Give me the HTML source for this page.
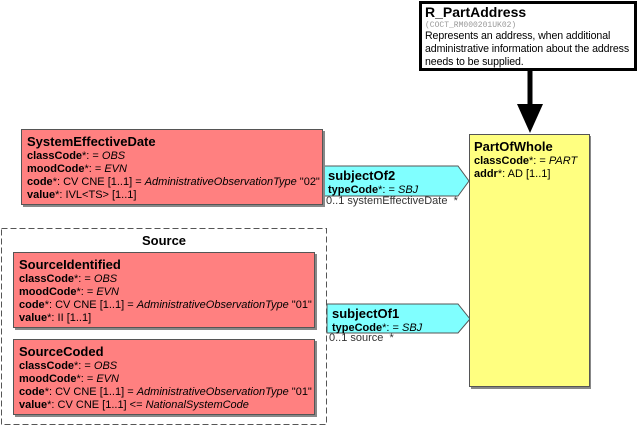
<!DOCTYPE html>
<html><head><style>
body{margin:0;width:643px;height:427px;background:#fff;position:relative;overflow:hidden;font-family:"Liberation Sans",Arial,sans-serif;}
.b{position:absolute;box-sizing:border-box;}
.red{background:#ff8080;border:1px solid #555;box-shadow:2px 2px 0 #888;padding:3px 5px;}
.t{font-weight:bold;font-size:13px;line-height:17px;}
.a{font-size:11px;line-height:13px;white-space:nowrap;}
.a b{font-weight:bold;}
.l{position:absolute;font-size:11px;color:#333;white-space:nowrap;}
</style></head><body>
<svg class="b" style="left:0;top:0" width="643" height="427">
<rect x="1.5" y="228.5" width="325" height="196" fill="#fff" stroke="#555" stroke-dasharray="6,3"/>
<line x1="530" y1="70" x2="530" y2="106" stroke="#000" stroke-width="5"/>
<polygon points="517,104 543,104 530,133" fill="#000"/>
<polygon points="323,166 458,166 469,181 458,196 323,196" fill="#80ffff" stroke="#555"/>
<polygon points="327,304 458,304 470,319 458,333 327,333" fill="#80ffff" stroke="#555"/>
<rect x="471" y="136" width="120" height="253" fill="#888"/>
<rect x="469.5" y="134.5" width="120" height="252" fill="#ffff80" stroke="#555"/>
<rect x="420.5" y="2.5" width="215" height="67" fill="#fff" stroke="#000" stroke-width="3"/>
</svg>
<div class="b" style="top:4px;left:425px;width:212px">
<div class="t" style="font-size:14px">R_PartAddress</div>
<div style="font-family:'Liberation Mono',monospace;font-size:8px;color:#999;line-height:9px">(COCT_RM000201UK02)</div>
<div class="a" style="line-height:13px;font-size:10.6px;letter-spacing:-0.1px">Represents an address, when additional<br>administrative information about the address<br>needs to be supplied.</div>
</div>
<div class="b" style="left:474px;top:138px">
<div class="t">PartOfWhole</div>
<div class="a"><b>classCode</b>*: = <i>PART</i></div>
<div class="a"><b>addr</b>*: AD [1..1]</div>
</div>
<div class="b red" style="left:21px;top:129px;width:302px;height:76px">
<div class="t">SystemEffectiveDate</div>
<div class="a"><b>classCode</b>*: = <i>OBS</i></div>
<div class="a"><b>moodCode</b>*: = <i>EVN</i></div>
<div class="a"><b>code</b>*: CV CNE [1..1] = <i>AdministrativeObservationType</i> "02"</div>
<div class="a"><b>value</b>*: IVL&lt;TS&gt; [1..1]</div>
</div>
<div class="b" style="left:328px;top:167px">
<div class="t">subjectOf2</div>
<div class="a"><b>typeCode</b>*: = <i>SBJ</i></div>
</div>
<div class="l" style="left:326px;top:195px">0..1 systemEffectiveDate &nbsp;*</div>
<div class="b t" style="left:1px;top:232px;width:326px;text-align:center">Source</div>
<div class="b red" style="left:13px;top:252px;width:302px;height:76px">
<div class="t">SourceIdentified</div>
<div class="a"><b>classCode</b>*: = <i>OBS</i></div>
<div class="a"><b>moodCode</b>*: = <i>EVN</i></div>
<div class="a"><b>code</b>*: CV CNE [1..1] = <i>AdministrativeObservationType</i> "01"</div>
<div class="a"><b>value</b>*: II [1..1]</div>
</div>
<div class="b red" style="left:13px;top:339px;width:302px;height:76px">
<div class="t">SourceCoded</div>
<div class="a"><b>classCode</b>*: = <i>OBS</i></div>
<div class="a"><b>moodCode</b>*: = <i>EVN</i></div>
<div class="a"><b>code</b>*: CV CNE [1..1] = <i>AdministrativeObservationType</i> "01"</div>
<div class="a"><b>value</b>*: CV CNE [1..1] &lt;= <i>NationalSystemCode</i></div>
</div>
<div class="b" style="left:332px;top:305px">
<div class="t">subjectOf1</div>
<div class="a"><b>typeCode</b>*: = <i>SBJ</i></div>
</div>
<div class="l" style="left:329px;top:332px">0..1 source &nbsp;*</div>
</body></html>
